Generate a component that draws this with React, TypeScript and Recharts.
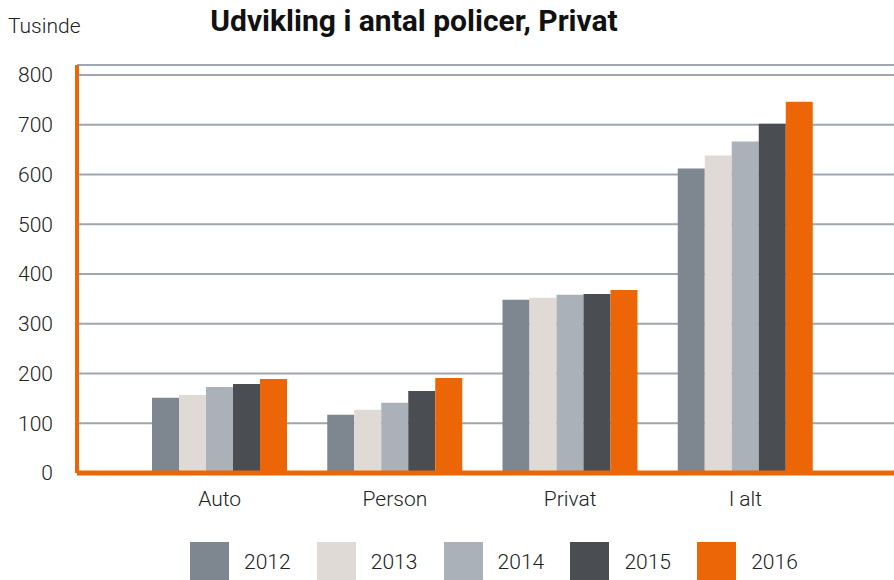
import { Bar, BarChart, CartesianGrid, XAxis, YAxis } from "recharts";

const categories = ["Auto", "Person", "Privat", "I alt"];
const years = ["2012", "2013", "2014", "2015", "2016"];
const v2012 = [151, 117, 348, 612];
const v2013 = [157, 127, 352, 638];
const v2014 = [173, 141, 358, 666];
const v2015 = [179, 165, 360, 702];
const v2016 = [189, 191, 368, 746];
const yTicks = [0, 100, 200, 300, 400, 500, 600, 700, 800];

const colors = ["#7e8790", "#dfdad6", "#abb1b8", "#4a4d51", "#ec6608"];
const orange = "#ec6608";
const font = "Roboto, 'Noto Sans', sans-serif";

const series = [v2012, v2013, v2014, v2015, v2016];
const data = categories.map((name, i) => {
  const row: any = { name };
  years.forEach((y, j) => (row[y] = series[j][i]));
  return row;
});

export default function App() {
  return (
    <div style={{ position: "absolute", left: 0, top: 0, width: 894, height: 580, overflow: "hidden", background: "#fff", fontFamily: font, color: "#222" }}>
      <div style={{ position: "absolute", left: 8, top: 14, fontSize: 21, fontWeight: 300 }}>Tusinde</div>
      <div style={{ position: "absolute", left: 0, width: 828, top: 3, textAlign: "center", fontSize: 30, fontWeight: 700, color: "#111" }}>
        Udvikling i antal policer, Privat
      </div>
      <BarChart
        width={894}
        height={580}
        data={data}
        margin={{ top: 65, right: 0, bottom: 67, left: 0 }}
        barCategoryGap={20}
        barGap={0}
      >
        <CartesianGrid vertical={false} stroke="#a0a6ae" strokeWidth={2} />
        <XAxis
          dataKey="name"
          height={40}
          padding={{ left: 55, right: 61 }}
          axisLine={{ stroke: orange, strokeWidth: 5 }}
          tickLine={false}
          tickSize={0}
          tickMargin={18}
          tick={{ fill: "#222", fontSize: 21, fontFamily: font, fontWeight: 300 }}
        />
        <YAxis
          width={77}
          domain={[0, 820]}
          ticks={yTicks}
          interval={0}
          axisLine={{ stroke: orange, strokeWidth: 4 }}
          tickLine={false}
          tickSize={0}
          tickMargin={24}
          tick={{ fill: "#222", fontSize: 21, fontFamily: font, fontWeight: 300 }}
        />
        {years.map((y, i) => (
          <Bar key={y} dataKey={y} fill={colors[i]} isAnimationActive={false} />
        ))}
      </BarChart>
      {years.map((y, i) => (
        <div key={y} style={{ position: "absolute", left: 190 + i * 126.8, top: 542, display: "flex", alignItems: "center" }}>
          <div style={{ width: 39, height: 39, background: colors[i] }} />
          <span style={{ marginLeft: 15, fontSize: 21, fontWeight: 300 }}>{y}</span>
        </div>
      ))}
    </div>
  );
}
